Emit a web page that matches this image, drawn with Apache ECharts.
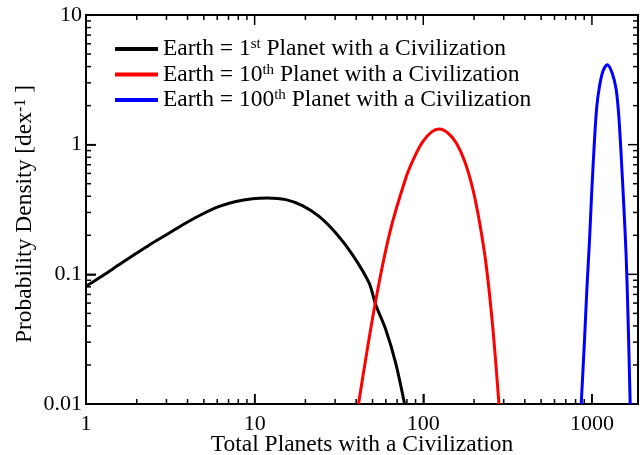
<!DOCTYPE html>
<html>
<head>
<meta charset="utf-8">
<script src="https://cdn.jsdelivr.net/npm/echarts@6/dist/echarts.min.js"></script>
<style>
html,body{margin:0;padding:0;background:#fff;}
#chart{width:640px;height:455px;}
</style>
</head>
<body>
<div id="chart"></div>
<script>
// ---- data ----
var seriesNames = ['Earth = 1st Planet with a Civilization', 'Earth = 10th Planet with a Civilization', 'Earth = 100th Planet with a Civilization'];
var blackX = [1, 1.255, 1.576, 1.98, 2.48, 3.12, 3.91, 4.91, 6.17, 7.74, 9.71, 11.9, 15.3, 19.2, 24.1, 30.3, 38.0, 47.7, 52.2, 59.9, 68.6, 77.5];
var blackY = [0.081, 0.0977, 0.119, 0.1445, 0.1746, 0.2085, 0.249, 0.292, 0.334, 0.365, 0.383, 0.388, 0.377, 0.339, 0.280, 0.2085, 0.142, 0.0859, 0.0584, 0.0375, 0.0207, 0.010];
var redX = [41.3, 51.5, 63.2, 79.4, 88.9, 99.6, 111.7, 124, 140, 157, 176, 197, 216, 236.6, 259, 281];
var redY = [0.010, 0.0567, 0.208, 0.57, 0.81, 1.06, 1.25, 1.32, 1.23, 1.03, 0.744, 0.45, 0.249, 0.115, 0.0375, 0.010];
var blueX = [864, 904, 933, 968, 999, 1036, 1069, 1109, 1161, 1232, 1318, 1393, 1444, 1492, 1546, 1596, 1641, 1686];
var blueY = [0.010, 0.0314, 0.076, 0.185, 0.45, 1.09, 1.97, 2.82, 3.67, 4.14, 3.57, 2.66, 1.65, 0.81, 0.334, 0.138, 0.042, 0.010];
var xTickLabels = ['1', '10', '100', '1000'];
var yTickLabels = ['0.01', '0.1', '1', '10'];
var xMajorTicks = [1, 10, 100, 1000];
var xMinorTicks = [2, 3, 4, 5, 6, 7, 8, 9, 20, 30, 40, 50, 60, 70, 80, 90, 200, 300, 400, 500, 600, 700, 800, 900];
var yMajorTicks = [0.01, 0.1, 1, 10];
var yMinorTicks = [0.02, 0.03, 0.04, 0.05, 0.06, 0.07, 0.08, 0.09, 0.2, 0.3, 0.4, 0.5, 0.6, 0.7, 0.8, 0.9, 2, 3, 4, 5, 6, 7, 8, 9];
var xMin = 1, xMax = 1876, yMin = 0.01, yMax = 10;

var FONT = 'Liberation Serif';
function zip(xs, ys) { return xs.map(function (x, i) { return [x, ys[i]]; }); }
function near(v, arr) { for (var i = 0; i < arr.length; i++) { if (Math.abs(v / arr[i] - 1) < 1e-6) return i; } return -1; }

var chart = echarts.init(document.getElementById('chart'));

var legendRich = {
  a: { fontFamily: FONT, fontSize: 23.5, color: '#000' },
  s: { fontFamily: FONT, fontSize: 15, color: '#000', verticalAlign: 'top' }
};

var option = {
  animation: false,
  grid: { left: 86, right: 2, top: 15, bottom: 51, show: true, borderColor: '#000', borderWidth: 2, outerBoundsMode: 'none' },
  legend: {
    data: seriesNames,
    orient: 'vertical',
    left: 110,
    top: 32,
    icon: 'rect',
    itemWidth: 43,
    itemHeight: 4,
    itemGap: 1.5,
    textStyle: { fontFamily: FONT, fontSize: 23.5, color: '#000', rich: legendRich },
    formatter: function (name) {
      var m = name.match(/^Earth = (\d+)(st|th) (.*)$/);
      return '{a|Earth = ' + m[1] + '}{s|' + m[2] + '}{a| ' + m[3] + '}';
    },
    selectedMode: false
  },
  xAxis: {
    type: 'log',
    logBase: 10,
    min: xMin,
    max: xMax,
    name: 'Total Planets with a Civilization',
    nameLocation: 'middle',
    nameGap: 29,
    nameMoveOverlap: false,
    nameTextStyle: { fontFamily: FONT, fontSize: 23.5, color: '#000' },
    axisLine: { show: true, lineStyle: { color: '#000', width: 2 } },
    axisTick: { show: true, inside: true, length: 10, lineStyle: { color: '#000', width: 1.5 } },
    splitLine: { show: false },
    axisLabel: {
      fontFamily: FONT, fontSize: 22, color: '#000', margin: 9,
      showMaxLabel: false,
      formatter: function (v) { var i = near(v, xMajorTicks); return i >= 0 ? xTickLabels[i] : ''; }
    }
  },
  yAxis: {
    type: 'log',
    logBase: 10,
    min: yMin,
    max: yMax,
    name: '{a|Probability Density [dex}{s|-1}{a| ]}',
    nameLocation: 'middle',
    nameGap: 49,
    nameMoveOverlap: false,
    nameRotate: 90,
    nameTextStyle: {
      fontFamily: FONT, fontSize: 23.5, color: '#000',
      padding: [0, 9, 0, 0],
      rich: {
        a: { fontFamily: FONT, fontSize: 23.5, color: '#000' },
        s: { fontFamily: FONT, fontSize: 16, color: '#000', verticalAlign: 'top' }
      }
    },
    axisLine: { show: true, lineStyle: { color: '#000', width: 2 } },
    axisTick: { show: true, inside: true, length: 10, lineStyle: { color: '#000', width: 1.5 } },
    splitLine: { show: false },
    axisLabel: {
      fontFamily: FONT, fontSize: 22, color: '#000', margin: 4,
      formatter: function (v) { var i = near(v, yMajorTicks); return i >= 0 ? yTickLabels[i] : ''; }
    }
  },
  series: [
    { name: seriesNames[0], type: 'line', data: zip(blackX, blackY), smooth: 0.3, showSymbol: false, symbol: 'none', lineStyle: { color: '#000', width: 3 }, itemStyle: { color: '#000' }, clip: true, z: 3 },
    { name: seriesNames[1], type: 'line', data: zip(redX, redY), smooth: 0.3, showSymbol: false, symbol: 'none', lineStyle: { color: '#ff0000', width: 3 }, itemStyle: { color: '#ff0000' }, clip: true, z: 3 },
    { name: seriesNames[2], type: 'line', data: zip(blueX, blueY), smooth: 0.3, showSymbol: false, symbol: 'none', lineStyle: { color: '#0000ff', width: 3 }, itemStyle: { color: '#0000ff' }, clip: true, z: 3 }
  ]
};
chart.setOption(option);

// tick marks on all four sides, positioned through the chart's own axes
var px = function (p) { return chart.convertToPixel({ xAxisIndex: 0, yAxisIndex: 0 }, p); };
var els = [];
var TW = 1.5;
xMajorTicks.concat(xMinorTicks).forEach(function (v) {
  if (v > xMax) return;
  var len = near(v, xMajorTicks) >= 0 ? 10 : 5;
  var a = px([v, yMin]), b = px([v, yMax]);
  els.push({ type: 'rect', shape: { x: a[0] - TW / 2, y: a[1] - len, width: TW, height: len }, style: { fill: '#000' } });
  els.push({ type: 'rect', shape: { x: b[0] - TW / 2, y: b[1], width: TW, height: len }, style: { fill: '#000' } });
});
yMajorTicks.concat(yMinorTicks).forEach(function (v) {
  var len = near(v, yMajorTicks) >= 0 ? 10 : 5;
  var a = px([xMin, v]), b = px([xMax, v]);
  els.push({ type: 'rect', shape: { x: a[0], y: a[1] - TW / 2, width: len, height: TW }, style: { fill: '#000' } });
  els.push({ type: 'rect', shape: { x: b[0] - len, y: b[1] - TW / 2, width: len, height: TW }, style: { fill: '#000' } });
});
chart.setOption({ graphic: els });
</script>
</body>
</html>
